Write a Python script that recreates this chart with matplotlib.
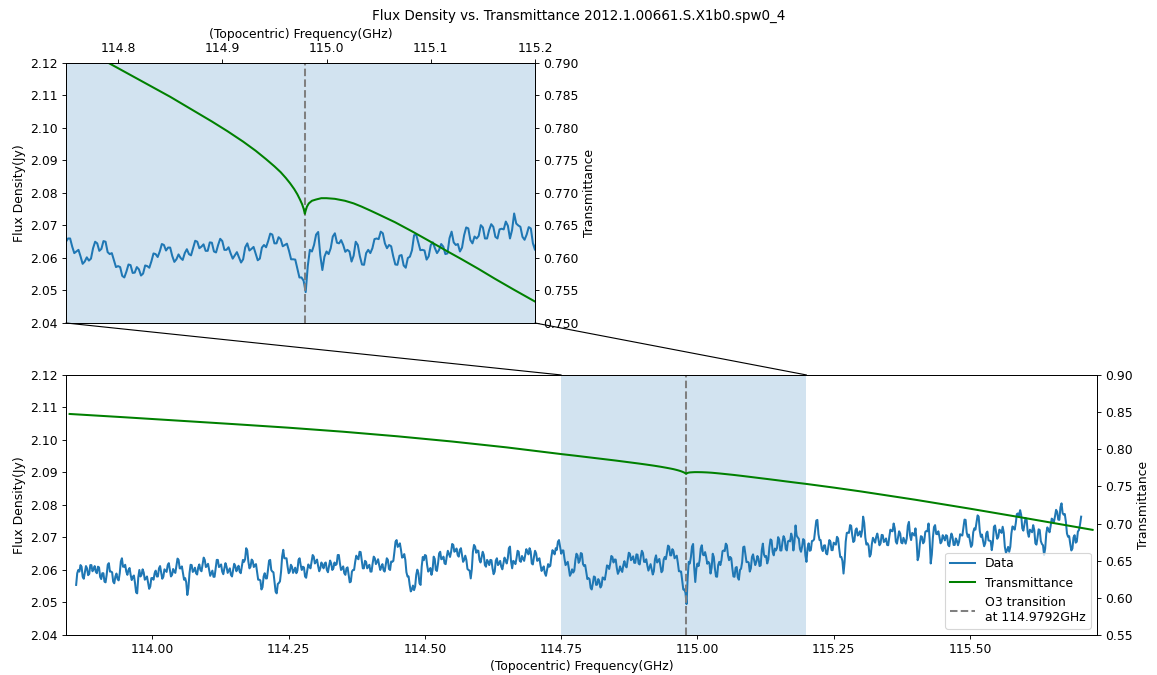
import numpy as np
import matplotlib
matplotlib.use("Agg")
import matplotlib.pyplot as plt
from matplotlib.ticker import MultipleLocator, FormatStrFormatter
from matplotlib.patches import ConnectionPatch

plt.rcParams["font.size"] = 11

# Spectral channels: start frequency and channel step (GHz)
freq_start = 113.860
freq_step = 0.002

# Measured flux density per channel (Jy)
flux = [
    2.0554, 2.0590, 2.0600, 2.0595, 2.0615, 2.0610, 2.0579, 2.0573, 2.0592, 2.0612, 2.0605, 2.0584, 2.0588, 2.0615, 2.0615, 2.0596, 2.0602, 2.0612, 2.0595, 2.0590,
    2.0610, 2.0608, 2.0579, 2.0572, 2.0590, 2.0590, 2.0564, 2.0562, 2.0585, 2.0616, 2.0621, 2.0595, 2.0595, 2.0593, 2.0564, 2.0559, 2.0580, 2.0589, 2.0572, 2.0568,
    2.0590, 2.0626, 2.0636, 2.0610, 2.0610, 2.0616, 2.0595, 2.0585, 2.0600, 2.0606, 2.0585, 2.0569, 2.0579, 2.0583, 2.0560, 2.0531, 2.0528, 2.0577, 2.0600, 2.0580,
    2.0585, 2.0602, 2.0592, 2.0570, 2.0574, 2.0580, 2.0560, 2.0542, 2.0549, 2.0575, 2.0575, 2.0570, 2.0590, 2.0598, 2.0580, 2.0580, 2.0605, 2.0612, 2.0592, 2.0573,
    2.0579, 2.0602, 2.0598, 2.0594, 2.0615, 2.0621, 2.0600, 2.0580, 2.0585, 2.0603, 2.0595, 2.0591, 2.0612, 2.0635, 2.0631, 2.0605, 2.0605, 2.0611, 2.0590, 2.0570,
    2.0575, 2.0562, 2.0523, 2.0544, 2.0590, 2.0616, 2.0615, 2.0594, 2.0598, 2.0607, 2.0590, 2.0586, 2.0608, 2.0617, 2.0600, 2.0596, 2.0618, 2.0638, 2.0631, 2.0609,
    2.0612, 2.0619, 2.0600, 2.0582, 2.0590, 2.0598, 2.0579, 2.0579, 2.0605, 2.0631, 2.0631, 2.0609, 2.0612, 2.0617, 2.0595, 2.0587, 2.0605, 2.0621, 2.0610, 2.0591,
    2.0598, 2.0605, 2.0585, 2.0580, 2.0600, 2.0619, 2.0612, 2.0596, 2.0605, 2.0613, 2.0595, 2.0590, 2.0610, 2.0631, 2.0625, 2.0633, 2.0667, 2.0660, 2.0626, 2.0605,
    2.0610, 2.0632, 2.0628, 2.0609, 2.0615, 2.0618, 2.0595, 2.0570, 2.0570, 2.0568, 2.0540, 2.0547, 2.0580, 2.0590, 2.0574, 2.0574, 2.0600, 2.0629, 2.0631, 2.0600,
    2.0595, 2.0593, 2.0564, 2.0533, 2.0528, 2.0557, 2.0560, 2.0565, 2.0595, 2.0642, 2.0662, 2.0636, 2.0636, 2.0636, 2.0610, 2.0590, 2.0595, 2.0616, 2.0610, 2.0591,
    2.0598, 2.0607, 2.0590, 2.0598, 2.0631, 2.0636, 2.0615, 2.0600, 2.0610, 2.0608, 2.0580, 2.0576, 2.0598, 2.0617, 2.0610, 2.0605, 2.0625, 2.0646, 2.0641, 2.0620,
    2.0625, 2.0632, 2.0612, 2.0596, 2.0605, 2.0623, 2.0615, 2.0605, 2.0620, 2.0623, 2.0600, 2.0593, 2.0612, 2.0629, 2.0620, 2.0600, 2.0605, 2.0623, 2.0615, 2.0618,
    2.0646, 2.0646, 2.0620, 2.0600, 2.0605, 2.0611, 2.0590, 2.0585, 2.0605, 2.0608, 2.0585, 2.0562, 2.0564, 2.0595, 2.0600, 2.0600, 2.0625, 2.0644, 2.0636, 2.0633,
    2.0656, 2.0655, 2.0630, 2.0605, 2.0605, 2.0628, 2.0625, 2.0605, 2.0610, 2.0616, 2.0595, 2.0595, 2.0620, 2.0641, 2.0636, 2.0618, 2.0625, 2.0633, 2.0615, 2.0600,
    2.0610, 2.0618, 2.0600, 2.0595, 2.0615, 2.0636, 2.0631, 2.0603, 2.0600, 2.0626, 2.0625, 2.0628, 2.0656, 2.0687, 2.0692, 2.0671, 2.0675, 2.0682, 2.0662, 2.0638,
    2.0640, 2.0649, 2.0631, 2.0593, 2.0580, 2.0580, 2.0554, 2.0534, 2.0540, 2.0552, 2.0538, 2.0549, 2.0585, 2.0601, 2.0590, 2.0559, 2.0554, 2.0610, 2.0640, 2.0630,
    2.0646, 2.0644, 2.0615, 2.0595, 2.0600, 2.0606, 2.0585, 2.0600, 2.0641, 2.0634, 2.0600, 2.0597, 2.0620, 2.0651, 2.0656, 2.0633, 2.0635, 2.0641, 2.0620, 2.0618,
    2.0641, 2.0659, 2.0650, 2.0640, 2.0656, 2.0680, 2.0677, 2.0656, 2.0660, 2.0666, 2.0646, 2.0641, 2.0662, 2.0667, 2.0645, 2.0625, 2.0631, 2.0644, 2.0631, 2.0603,
    2.0600, 2.0598, 2.0574, 2.0602, 2.0656, 2.0677, 2.0672, 2.0653, 2.0660, 2.0659, 2.0631, 2.0623, 2.0640, 2.0656, 2.0646, 2.0615, 2.0610, 2.0631, 2.0625, 2.0615,
    2.0631, 2.0630, 2.0605, 2.0587, 2.0595, 2.0629, 2.0636, 2.0615, 2.0620, 2.0628, 2.0610, 2.0602, 2.0620, 2.0638, 2.0630, 2.0620, 2.0636, 2.0667, 2.0672, 2.0626,
    2.0605, 2.0628, 2.0625, 2.0618, 2.0636, 2.0659, 2.0656, 2.0628, 2.0625, 2.0643, 2.0635, 2.0628, 2.0646, 2.0664, 2.0655, 2.0648, 2.0667, 2.0657, 2.0620, 2.0617,
    2.0640, 2.0659, 2.0651, 2.0628, 2.0631, 2.0636, 2.0615, 2.0597, 2.0605, 2.0611, 2.0590, 2.0582, 2.0600, 2.0618, 2.0610, 2.0613, 2.0641, 2.0661, 2.0655, 2.0648,
    2.0667, 2.0662, 2.0687, 2.0692, 2.0670, 2.0650, 2.0660, 2.0660, 2.0635, 2.0615, 2.0620, 2.0625, 2.0605, 2.0582, 2.0589, 2.0602, 2.0592, 2.0598, 2.0630, 2.0650,
    2.0645, 2.0622, 2.0628, 2.0652, 2.0650, 2.0618, 2.0612, 2.0615, 2.0594, 2.0572, 2.0575, 2.0572, 2.0545, 2.0540, 2.0558, 2.0580, 2.0578, 2.0554, 2.0555, 2.0572,
    2.0565, 2.0546, 2.0552, 2.0577, 2.0575, 2.0570, 2.0590, 2.0614, 2.0612, 2.0603, 2.0620, 2.0643, 2.0640, 2.0623, 2.0632, 2.0632, 2.0606, 2.0588, 2.0596, 2.0611,
    2.0600, 2.0594, 2.0615, 2.0627, 2.0612, 2.0608, 2.0630, 2.0653, 2.0650, 2.0630, 2.0635, 2.0642, 2.0622, 2.0622, 2.0648, 2.0647, 2.0620, 2.0617, 2.0640, 2.0659,
    2.0652, 2.0625, 2.0625, 2.0633, 2.0614, 2.0598, 2.0608, 2.0618, 2.0602, 2.0586, 2.0596, 2.0633, 2.0645, 2.0623, 2.0628, 2.0634, 2.0614, 2.0593, 2.0598, 2.0632,
    2.0640, 2.0633, 2.0652, 2.0675, 2.0672, 2.0645, 2.0645, 2.0664, 2.0658, 2.0636, 2.0640, 2.0644, 2.0622, 2.0596, 2.0596, 2.0595, 2.0568, 2.0540, 2.0540, 2.0530,
    2.0495, 2.0575, 2.0625, 2.0620, 2.0640, 2.0672, 2.0680, 2.0608, 2.0563, 2.0604, 2.0620, 2.0612, 2.0630, 2.0666, 2.0676, 2.0647, 2.0645, 2.0655, 2.0640, 2.0619,
    2.0625, 2.0620, 2.0589, 2.0607, 2.0650, 2.0640, 2.0605, 2.0580, 2.0579, 2.0615, 2.0625, 2.0615, 2.0630, 2.0658, 2.0660, 2.0658, 2.0681, 2.0676, 2.0645, 2.0630,
    2.0640, 2.0636, 2.0605, 2.0580, 2.0579, 2.0607, 2.0609, 2.0577, 2.0570, 2.0600, 2.0604, 2.0624, 2.0670, 2.0672, 2.0648, 2.0624, 2.0625, 2.0623, 2.0595, 2.0605,
    2.0640, 2.0648, 2.0630, 2.0615, 2.0625, 2.0643, 2.0635, 2.0612, 2.0614, 2.0661, 2.0681, 2.0648, 2.0640, 2.0643, 2.0620, 2.0632, 2.0670, 2.0694, 2.0691, 2.0655,
    2.0645, 2.0666, 2.0660, 2.0668, 2.0701, 2.0694, 2.0660, 2.0660, 2.0686, 2.0704, 2.0696, 2.0665, 2.0660, 2.0688, 2.0690, 2.0688, 2.0712, 2.0699, 2.0660, 2.0686,
    2.0737, 2.0706, 2.0700, 2.0696, 2.0665, 2.0656, 2.0672, 2.0695, 2.0691, 2.0645, 2.0625, 2.0667, 2.0682, 2.0659, 2.0661, 2.0689, 2.0690, 2.0694, 2.0723, 2.0752,
    2.0754, 2.0710, 2.0692, 2.0692, 2.0666, 2.0658, 2.0675, 2.0676, 2.0651, 2.0648, 2.0670, 2.0692, 2.0687, 2.0661, 2.0661, 2.0684, 2.0680, 2.0678, 2.0702, 2.0697,
    2.0666, 2.0640, 2.0640, 2.0628, 2.0589, 2.0625, 2.0687, 2.0714, 2.0715, 2.0714, 2.0738, 2.0736, 2.0707, 2.0686, 2.0690, 2.0722, 2.0728, 2.0706, 2.0710, 2.0719,
    2.0702, 2.0720, 2.0764, 2.0745, 2.0700, 2.0678, 2.0682, 2.0675, 2.0641, 2.0648, 2.0680, 2.0699, 2.0692, 2.0684, 2.0702, 2.0712, 2.0695, 2.0676, 2.0682, 2.0708,
    2.0707, 2.0686, 2.0690, 2.0697, 2.0677, 2.0676, 2.0702, 2.0724, 2.0720, 2.0719, 2.0743, 2.0728, 2.0687, 2.0681, 2.0700, 2.0719, 2.0712, 2.0684, 2.0682, 2.0699,
    2.0690, 2.0681, 2.0697, 2.0736, 2.0748, 2.0707, 2.0692, 2.0714, 2.0710, 2.0706, 2.0728, 2.0692, 2.0630, 2.0642, 2.0680, 2.0704, 2.0702, 2.0682, 2.0687, 2.0717,
    2.0720, 2.0719, 2.0743, 2.0695, 2.0620, 2.0647, 2.0700, 2.0732, 2.0738, 2.0711, 2.0710, 2.0719, 2.0702, 2.0682, 2.0687, 2.0707, 2.0700, 2.0691, 2.0707, 2.0705,
    2.0677, 2.0673, 2.0695, 2.0712, 2.0702, 2.0677, 2.0677, 2.0697, 2.0690, 2.0676, 2.0687, 2.0710, 2.0707, 2.0706, 2.0730, 2.0755, 2.0754, 2.0715, 2.0702, 2.0709,
    2.0690, 2.0671, 2.0677, 2.0716, 2.0728, 2.0724, 2.0745, 2.0768, 2.0764, 2.0720, 2.0702, 2.0709, 2.0690, 2.0673, 2.0682, 2.0713, 2.0718, 2.0691, 2.0690, 2.0689,
    2.0661, 2.0684, 2.0733, 2.0737, 2.0715, 2.0696, 2.0702, 2.0724, 2.0720, 2.0714, 2.0733, 2.0715, 2.0671, 2.0653, 2.0660, 2.0671, 2.0656, 2.0671, 2.0712, 2.0734,
    2.0730, 2.0724, 2.0743, 2.0772, 2.0774, 2.0766, 2.0784, 2.0769, 2.0728, 2.0721, 2.0740, 2.0760, 2.0754, 2.0715, 2.0702, 2.0724, 2.0720, 2.0716, 2.0738, 2.0723,
    2.0682, 2.0678, 2.0700, 2.0725, 2.0723, 2.0689, 2.0680, 2.0676, 2.0646, 2.0666, 2.0712, 2.0731, 2.0723, 2.0716, 2.0735, 2.0758, 2.0754, 2.0747, 2.0765, 2.0785,
    2.0779, 2.0755, 2.0754, 2.0793, 2.0805, 2.0775, 2.0770, 2.0772, 2.0748, 2.0712, 2.0702, 2.0704, 2.0680, 2.0660, 2.0666, 2.0700, 2.0707, 2.0684, 2.0687, 2.0718,
    2.0723, 2.0740, 2.0764,
]

# Atmospheric transmittance model (frequency GHz, transmittance)
trans_freq = [
    113.848, 113.950, 114.050, 114.150, 114.250, 114.350, 114.450, 114.550,
    114.650, 114.750, 114.775, 114.800, 114.825, 114.850, 114.870, 114.890,
    114.905, 114.920, 114.932, 114.942, 114.950, 114.956, 114.961, 114.965,
    114.969, 114.972, 114.9745, 114.9765, 114.978, 114.9792, 114.9800, 114.9812,
    114.9830, 114.9860, 114.9900, 114.9950, 115.0000, 115.0080, 115.0177, 115.0260,
    115.0337, 115.0420, 115.0500, 115.0657, 115.0820, 115.0976, 115.1140, 115.1297,
    115.1460, 115.1616, 115.1800, 115.2000, 115.2500, 115.3000, 115.4000, 115.5000,
    115.6000, 115.7250,
]
trans_val = [
    0.8475, 0.8430, 0.8384, 0.8338, 0.8290, 0.8236, 0.8174, 0.8104,
    0.8025, 0.7935, 0.7914, 0.7892, 0.7870, 0.7848, 0.7829, 0.7810,
    0.7795, 0.7779, 0.7765, 0.7752, 0.7741, 0.7732, 0.7723, 0.7715,
    0.7706, 0.7698, 0.7690, 0.7683, 0.7676, 0.7668, 0.7673, 0.7679,
    0.7684, 0.7688, 0.7690, 0.7692, 0.7692, 0.7691, 0.7688, 0.7684,
    0.7679, 0.7673, 0.7667, 0.7655, 0.7641, 0.7627, 0.7612, 0.7598,
    0.7583, 0.7568, 0.7551, 0.7533, 0.7484, 0.7432, 0.7320, 0.7200,
    0.7075, 0.6915,
]

o3_line = 114.9792
zoom_lo, zoom_hi = 114.75, 115.20

freq = freq_start + freq_step * np.arange(len(flux))

LW = 1.8
DPI = 81
fig = plt.figure(figsize=(1157 / DPI, 675 / DPI), dpi=DPI)
ax = fig.add_axes([0.0570, 0.0593, 0.8911, 0.3852])
axins = fig.add_axes([0.0570, 0.5215, 0.4054, 0.3852])

fig.text(0.5, 1 - 16 / 675, "Flux Density vs. Transmittance 2012.1.00661.S.X1b0.spw0_4",
         ha="center", va="center", fontsize=12)

# Main panel
ax.axvspan(zoom_lo, zoom_hi, color="C0", alpha=0.2, lw=0)
l_data, = ax.plot(freq, flux, color="C0", lw=LW, label="Data")
l_o3 = ax.axvline(o3_line, color="gray", ls="--", lw=LW,
                  label="O3 transition\nat 114.9792GHz")
ax.set_xlim(113.8413, 115.7330)
ax.set_ylim(2.04, 2.12)
ax.xaxis.set_major_locator(MultipleLocator(0.25))
ax.xaxis.set_major_formatter(FormatStrFormatter("%.2f"))
ax.yaxis.set_major_locator(MultipleLocator(0.01))
ax.yaxis.set_major_formatter(FormatStrFormatter("%.2f"))
ax.set_xlabel("(Topocentric) Frequency(GHz)")
ax.set_ylabel("Flux Density(Jy)")

ax2 = ax.twinx()
l_tr, = ax2.plot(trans_freq, trans_val, color="green", lw=LW, label="Transmittance")
ax2.set_ylim(0.55, 0.90)
ax2.yaxis.set_major_locator(MultipleLocator(0.05))
ax2.yaxis.set_major_formatter(FormatStrFormatter("%.2f"))
ax2.set_ylabel("Transmittance")
ax2.legend(handles=[l_data, l_tr, l_o3], loc="lower right")

# Zoomed panel
axins.axvspan(zoom_lo, zoom_hi, color="C0", alpha=0.2, lw=0)
axins.plot(freq, flux, color="C0", lw=LW)
axins.axvline(o3_line, color="gray", ls="--", lw=LW)
axins.set_xlim(zoom_lo, zoom_hi)
axins.set_ylim(2.04, 2.12)
axins.xaxis.tick_top()
axins.xaxis.set_label_position("top")
axins.xaxis.set_major_locator(MultipleLocator(0.1))
axins.xaxis.set_major_formatter(FormatStrFormatter("%.1f"))
axins.yaxis.set_major_locator(MultipleLocator(0.01))
axins.yaxis.set_major_formatter(FormatStrFormatter("%.2f"))
axins.set_xlabel("(Topocentric) Frequency(GHz)")
axins.set_ylabel("Flux Density(Jy)")

axins2 = axins.twinx()
axins2.plot(trans_freq, trans_val, color="green", lw=LW)
axins2.set_ylim(0.750, 0.790)
axins2.yaxis.set_major_locator(MultipleLocator(0.005))
axins2.yaxis.set_major_formatter(FormatStrFormatter("%.3f"))
axins2.set_ylabel("Transmittance")

# Connectors from the zoomed panel corners to the highlighted band
for xv in (zoom_lo, zoom_hi):
    con = ConnectionPatch(xyA=(xv, 2.04), coordsA=axins.transData,
                          xyB=(xv, 2.12), coordsB=ax.transData,
                          color="black", lw=1.0)
    fig.add_artist(con)

fig.savefig("out.png", dpi=DPI)
